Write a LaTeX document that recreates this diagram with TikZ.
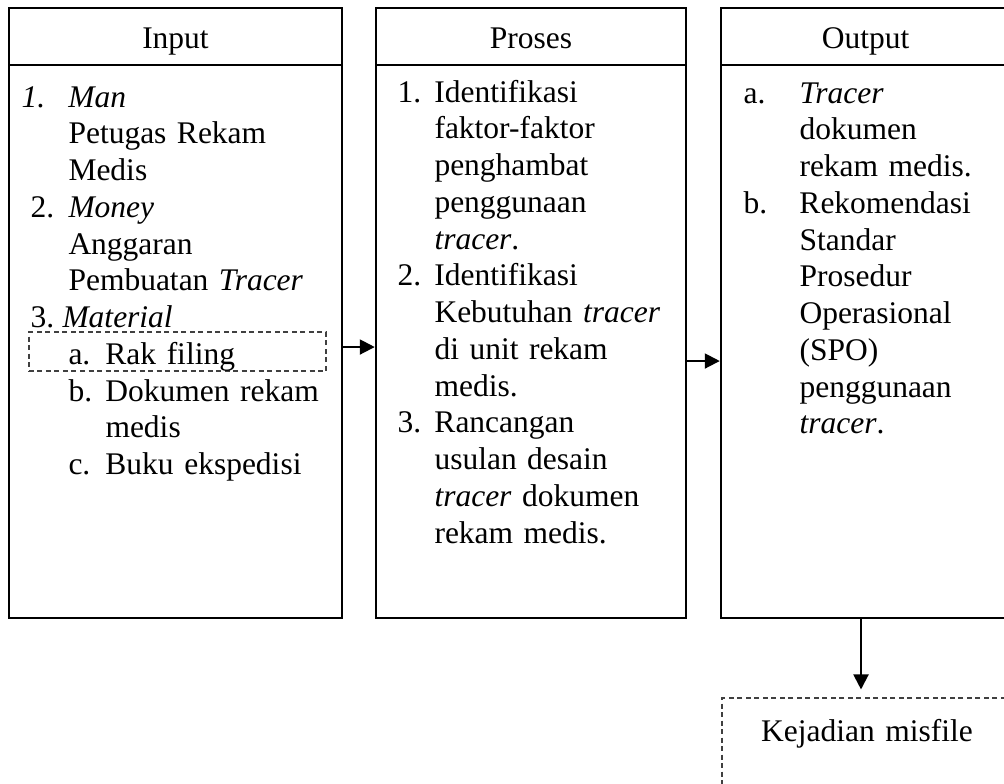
\documentclass[tikz,border=0pt]{standalone}
\usepackage{fontspec}
\setmainfont{Liberation Serif}
\usetikzlibrary{arrows.meta}

\begin{document}
\begin{tikzpicture}[x=0.4pt, y=-0.4pt, font=\fontsize{12.6pt}{14.7pt}\selectfont,
    caja/.style={draw, line width=1pt, inner sep=0pt},
    kepala/.style={caja, minimum height=22.8pt, text height=11pt, text depth=1.8pt},
    texto/.style={anchor=base west, inner sep=0pt, align=left, text width=130pt},
    flecha/.style={-{Triangle[length=6pt,width=6pt]}, line width=0.8pt},
    punteado/.style={draw=black!75, dash pattern=on 2pt off 1.4pt, line width=0.45pt, inner sep=0pt}]
    \clip (0,0) rectangle (1004,783);
    \fill[white] (0,0) rectangle (1004,783);

    % Kolom input
    \node[kepala, minimum width=133.2pt] (inputkepala) at (175.5,36.5) {Input};
    \node[caja, minimum width=133.2pt, minimum height=221.2pt] (inputisi) at (175.5,341.5) {};
    \node[punteado, minimum width=118.8pt, minimum height=15.6pt] (rak) at (177.5,351.5) {};
    \node[texto] (inputteks) at (21,107) {%
        \makebox[18.8pt][l]{\textit{1.}}\textit{Man}\\
        \hspace*{18.8pt}Petugas Rekam\\
        \hspace*{18.8pt}Medis\\
        \hspace*{3.6pt}\makebox[15.2pt][l]{2.}\textit{Money}\\
        \hspace*{18.8pt}Anggaran\\
        \hspace*{18.8pt}Pembuatan \textit{Tracer}\\
        \hspace*{3.6pt}\makebox[12.8pt][l]{3.}\textit{Material}\\
        \hspace*{18.8pt}\makebox[14.8pt][l]{a.}Rak filing\\
        \hspace*{18.8pt}\makebox[14.8pt][l]{b.}Dokumen rekam\\
        \hspace*{33.6pt}medis\\
        \hspace*{18.8pt}\makebox[14.8pt][l]{c.}Buku ekspedisi};

    % Kolom proses
    \node[kepala, minimum width=124pt] (proseskepala) at (531,36.5) {Proses};
    \node[caja, minimum width=124pt, minimum height=221.2pt] (prosesisi) at (531,341.5) {};
    \node[texto] (prosesteks) at (397,102) {%
        \makebox[14.8pt][l]{1.}Identifikasi\\
        \hspace*{14.8pt}faktor-faktor\\
        \hspace*{14.8pt}penghambat\\
        \hspace*{14.8pt}penggunaan\\
        \hspace*{14.8pt}\textit{tracer}.\\
        \makebox[14.8pt][l]{2.}Identifikasi\\
        \hspace*{14.8pt}Kebutuhan \textit{tracer}\\
        \hspace*{14.8pt}di unit rekam\\
        \hspace*{14.8pt}medis.\\
        \makebox[14.8pt][l]{3.}Rancangan\\
        \hspace*{14.8pt}usulan desain\\
        \hspace*{14.8pt}\textit{tracer} dokumen\\
        \hspace*{14.8pt}rekam medis.};

    % Kolom output
    \node[kepala, minimum width=115.6pt] (outputkepala) at (865.5,36.5) {Output};
    \node[caja, minimum width=115.6pt, minimum height=221.2pt] (outputisi) at (865.5,341.5) {};
    \node[texto] (outputteks) at (743,103) {%
        \makebox[22.4pt][l]{a.}\textit{Tracer}\\
        \hspace*{22.4pt}dokumen\\
        \hspace*{22.4pt}rekam medis.\\
        \makebox[22.4pt][l]{b.}Rekomendasi\\
        \hspace*{22.4pt}Standar\\
        \hspace*{22.4pt}Prosedur\\
        \hspace*{22.4pt}Operasional\\
        \hspace*{22.4pt}(SPO)\\
        \hspace*{22.4pt}penggunaan\\
        \hspace*{22.4pt}\textit{tracer}.};

    % Kejadian misfile
    \node[punteado, anchor=base, text width=116pt, align=center, text height=17.2pt, text depth=24pt] (misfile) at (867,741) {Kejadian misfile};

    % Panah
    \draw[flecha] ([yshift=-2.2pt]inputisi.east) -- ([yshift=-2.2pt]inputisi.east -| prosesisi.west);
    \draw[flecha] ([yshift=-7.8pt]prosesisi.east) -- ([yshift=-7.8pt]prosesisi.east -| outputisi.west);
    \draw[flecha, shorten >=3.2pt] ([xshift=-1.8pt]outputisi.south) -- ([xshift=-1.8pt]outputisi.south |- misfile.north);

\end{tikzpicture}
\end{document}
